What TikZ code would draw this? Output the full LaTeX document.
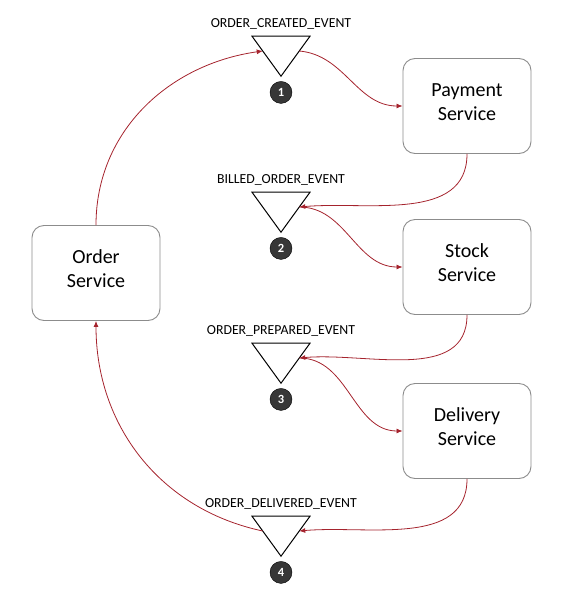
\documentclass[tikz,border=0pt]{standalone}
\usepackage{fontspec}
\setmainfont{Carlito}
\usetikzlibrary{shapes.geometric,arrows.meta,positioning}
\definecolor{flowred}{RGB}{165,35,45}
\definecolor{boxgray}{RGB}{140,140,140}
\definecolor{dotgray}{RGB}{55,55,55}

\begin{document}
\begin{tikzpicture}[
    x=1pt, y=-1pt,
    >={Latex[length=6pt,width=5pt]},
    svc/.style={
        rectangle, draw=boxgray, line width=0.9pt, rounded corners=12pt,
        minimum width=128pt, minimum height=95pt, text depth=8pt,
        align=center, font=\fontsize{20}{24}\selectfont
    },
    evt/.style={
        isosceles triangle, shape border rotate=-90,
        isosceles triangle stretches, draw, line width=1pt,
        minimum width=58pt, minimum height=40pt,
        inner sep=0pt, outer sep=0pt
    },
    evtlabel/.style={font=\fontsize{13.8}{15}\selectfont, inner sep=1pt},
    num/.style={
        circle, fill=dotgray, draw=black, minimum size=22pt, inner sep=0pt,
        text=white, font=\bfseries\fontsize{12.5}{13}\selectfont
    },
    arr/.style={->, line width=0.8pt, draw=flowred}
]
    \useasboundingbox (0,0) rectangle (564,600);

    % services
    \node[svc] (order) at (96,273) {Order\\Service};
    \node[svc] (pay) at (467,106) {Payment\\Service};
    \node[svc] (stock) at (467,267) {Stock\\Service};
    \node[svc] (deliv) at (467,431) {Delivery\\Service};

    % events
    \node[evt] (t1) at (281,51) {};
    \node[evtlabel, above=6pt of t1] (l1) {ORDER\_CREATED\_EVENT};
    \node[num, below=5pt of t1] (n1) {1};

    \node[evt] (t2) at (281,207) {};
    \node[evtlabel, above=6pt of t2] (l2) {BILLED\_ORDER\_EVENT};
    \node[num, below=5pt of t2] (n2) {2};

    \node[evt] (t3) at (281,358) {};
    \node[evtlabel, above=6pt of t3] (l3) {ORDER\_PREPARED\_EVENT};
    \node[num, below=5pt of t3] (n3) {3};

    \node[evt] (t4) at (281,531) {};
    \node[evtlabel, above=6pt of t4] (l4) {ORDER\_DELIVERED\_EVENT};
    \node[num, below=5pt of t4] (n4) {4};

    % flow
    \draw[arr] (order.north) to[out=90, in=188] (t1.west);
    \draw[arr] (t1.east) to[out=-5, in=180] (pay.west);
    \draw[arr] (pay.south) to[out=-90, in=5] (t2.east);
    \draw[arr] (t2.east) to[out=0, in=180] (stock.west);
    \draw[arr] (stock.south) to[out=-90, in=5] (t3.east);
    \draw[arr] (t3.east) to[out=0, in=180] (deliv.west);
    \draw[arr] (deliv.south) to[out=-90, in=5] (t4.east);
    \draw[arr] (t4.west) to[out=168, in=-90] (order.south);
\end{tikzpicture}
\end{document}
